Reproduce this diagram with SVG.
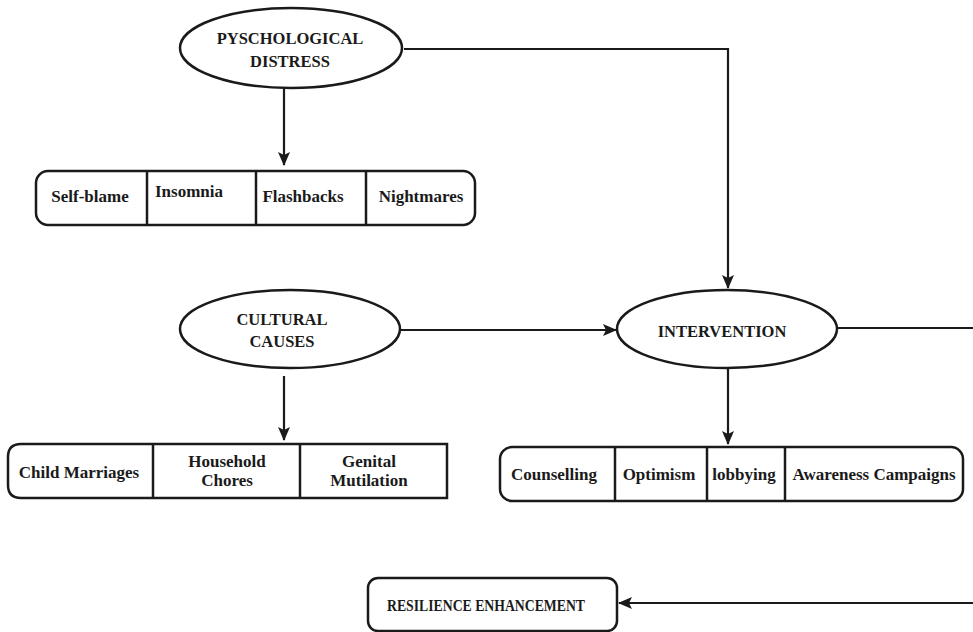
<svg xmlns="http://www.w3.org/2000/svg" width="973" height="632" viewBox="0 0 973 632">
<defs>
<marker id="ah" markerWidth="14" markerHeight="12" refX="13" refY="6" orient="auto" markerUnits="userSpaceOnUse">
<path d="M0,0 L14,6 L0,12 L3,6 Z" fill="#1a1a1a"/>
</marker>
<style>
.sh{fill:#fff;stroke:#1a1a1a;stroke-width:2.5}
.dv{stroke:#1a1a1a;stroke-width:2.5;fill:none}
.ln{stroke:#1a1a1a;stroke-width:2.2;fill:none}
.t{font-family:"Liberation Serif","DejaVu Serif",serif;font-weight:bold;font-size:17px;fill:#1a1a1a;text-anchor:middle}
.c{font-size:16.5px}
.r{font-size:16px}
</style>
</defs>
<g id="connectors">
<path class="ln" d="M404,49 H728 V288" marker-end="url(#ah)"/>
<path class="ln" d="M284,88 V165" marker-end="url(#ah)"/>
<path class="ln" d="M400,330 H616" marker-end="url(#ah)"/>
<path class="ln" d="M284,376 V440" marker-end="url(#ah)"/>
<path class="ln" d="M728,368 V444" marker-end="url(#ah)"/>
<path class="ln" d="M838,328 H973"/>
<path class="ln" d="M973,603 H619" marker-end="url(#ah)"/>
</g>
<g id="psychological-distress">
<ellipse class="sh" cx="291" cy="48" rx="111" ry="40"/>
<text class="t c" x="290" y="44">PYSCHOLOGICAL</text>
<text class="t c" x="290" y="67">DISTRESS</text>
</g>
<g id="symptoms">
<rect class="sh" x="36" y="171" width="439" height="54" rx="12"/>
<line class="dv" x1="147" y1="171" x2="147" y2="225"/>
<line class="dv" x1="256" y1="171" x2="256" y2="225"/>
<line class="dv" x1="366" y1="171" x2="366" y2="225"/>
<text class="t" x="90" y="202">Self-blame</text>
<text class="t" x="189" y="197">Insomnia</text>
<text class="t" x="303" y="202">Flashbacks</text>
<text class="t" x="421" y="202">Nightmares</text>
</g>
<g id="cultural-causes">
<ellipse class="sh" cx="290" cy="329" rx="110" ry="39"/>
<text class="t c" x="282" y="325">CULTURAL</text>
<text class="t c" x="282" y="347">CAUSES</text>
</g>
<g id="causes">
<path class="sh" d="M447,444 V498 H21 Q8,498 8,485 V457 Q8,444 21,444 Z"/>
<line class="dv" x1="153" y1="444" x2="153" y2="498"/>
<line class="dv" x1="300" y1="444" x2="300" y2="498"/>
<text class="t" x="79" y="478">Child Marriages</text>
<text class="t" x="227" y="467">Household</text>
<text class="t" x="227" y="486">Chores</text>
<text class="t" x="369" y="467">Genital</text>
<text class="t" x="369" y="486">Mutilation</text>
</g>
<g id="intervention">
<ellipse class="sh" cx="727" cy="329" rx="110" ry="39"/>
<text class="t c" x="722" y="337">INTERVENTION</text>
</g>
<g id="interventions">
<rect class="sh" x="500" y="447" width="463" height="54" rx="12"/>
<line class="dv" x1="615" y1="447" x2="615" y2="501"/>
<line class="dv" x1="707" y1="447" x2="707" y2="501"/>
<line class="dv" x1="785" y1="447" x2="785" y2="501"/>
<text class="t" x="554" y="480">Counselling</text>
<text class="t" x="659" y="480">Optimism</text>
<text class="t" x="744" y="480">lobbying</text>
<text class="t" x="874" y="480">Awareness Campaigns</text>
</g>
<g id="resilience-enhancement">
<rect class="sh" x="368" y="578" width="249" height="53" rx="10"/>
<text class="t r" x="486" y="611" textLength="198" lengthAdjust="spacingAndGlyphs">RESILIENCE ENHANCEMENT</text>
</g>
</svg>
